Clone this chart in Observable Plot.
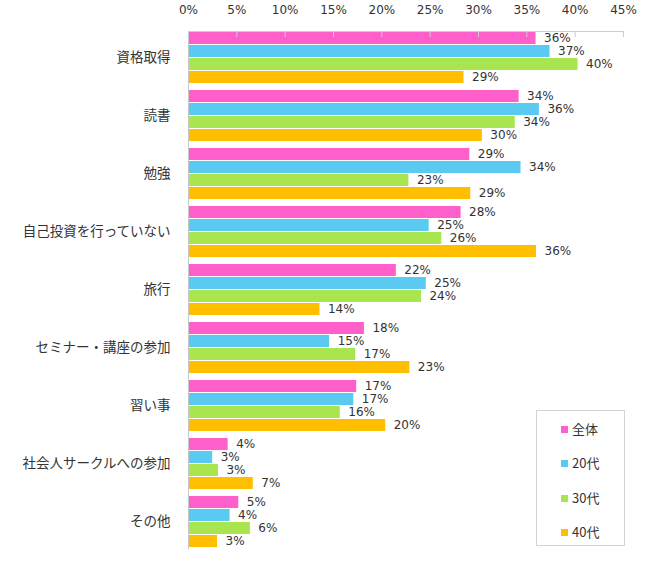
<!DOCTYPE html>
<html><head><meta charset="utf-8">
<script src="https://cdn.jsdelivr.net/npm/d3@7"></script>
<script src="https://cdn.jsdelivr.net/npm/@observablehq/plot@0.6"></script>
<style>
body{margin:0;background:#fff;}
#wrap{position:relative;width:650px;height:564px;}
#legend{position:absolute;left:536px;top:410px;width:89px;height:136px;border:1px solid #d4d4d4;box-sizing:border-box;background:#fff;font-family:"Noto Sans CJK JP","DejaVu Sans",sans-serif;font-size:13px;color:#333;padding-top:1px;}
#legend .item{height:34.3px;line-height:34.3px;padding-left:24px;white-space:nowrap;}
#legend .sw{display:inline-block;width:7px;height:7px;margin-right:4px;vertical-align:middle;position:relative;top:-1px;}
</style></head><body><div id="wrap"></div>
<script>
const categories = ["資格取得","読書","勉強","自己投資を行っていない","旅行","セミナー・講座の参加","習い事","社会人サークルへの参加","その他"];
const series = ["全体","20代","30代","40代"];
const colors = ["#ff5fcb","#5bcaf2","#a8e54f","#ffbf00"];
const valAll   = [35.95, 34.2, 29.1, 28.2, 21.5, 18.2, 17.4, 4.1, 5.2];
const val20s   = [37.4, 36.3, 34.4, 24.9, 24.6, 14.6, 17.1, 2.5, 4.3];
const val30s   = [40.3, 33.8, 22.8, 26.2, 24.1, 17.3, 15.7, 3.1, 6.4];
const val40s   = [28.5, 30.4, 29.2, 36.0, 13.6, 22.9, 20.4, 6.7, 3.0];
const xTicks = [0, 5, 10, 15, 20, 25, 30, 35, 40, 45];

const seriesValues = [valAll, val20s, val30s, val40s];
const rows = [];
categories.forEach((c, i) => series.forEach((s, j) => rows.push({category: c, series: s, value: seriesValues[j][i]})));

const chart = Plot.plot({
  width: 650, height: 564,
  marginLeft: 188, marginRight: 27, marginTop: 31, marginBottom: 15,
  style: {fontFamily: "DejaVu Sans", fontSize: "12px", color: "#333", background: "#fff"},
  x: {domain: [0, 45], axis: null},
  y: {domain: series, axis: null, paddingInner: 0.05, paddingOuter: 0},
  fy: {domain: categories, paddingInner: 0.085, paddingOuter: 0, axis: null},
  color: {domain: series, range: colors},
  marks: [
    Plot.barX(rows, {fy: "category", y: "series", x: "value", fill: "series"}),
    Plot.frame({anchor: "left", facet: "super", stroke: "#c8c8c8"}),
    Plot.frame({anchor: "top", facetAnchor: "top", stroke: "#d0c8dc"}),
    Plot.axisX(xTicks, {anchor: "top", tickSize: 0, tickPadding: 14, dy: -4, tickFormat: d => d + "%", label: null, fill: "#333", fontSize: 12}),
    Plot.tickX(xTicks, {x: d => d, fy: () => categories[0], stroke: "#d0c8dc", insetBottom: 47}),
    Plot.text(rows, {fy: "category", y: "series", x: "value", text: d => Math.round(d.value) + "%", textAnchor: "start", dx: 8, fill: "#333", fontSize: 12}),
    Plot.axisFy({anchor: "left", tickSize: 0, tickPadding: 18, label: null, fontFamily: "Noto Sans CJK JP", fontSize: 13.5, fill: "#333"})
  ]
});
const wrap = document.getElementById("wrap");
wrap.appendChild(chart);
const legend = document.createElement("div");
legend.id = "legend";
series.forEach((s, j) => {
  const it = document.createElement("div");
  it.className = "item";
  const sw = document.createElement("span");
  sw.className = "sw";
  sw.style.background = colors[j];
  it.appendChild(sw);
  it.appendChild(document.createTextNode(s));
  legend.appendChild(it);
});
wrap.appendChild(legend);
</script></body></html>
